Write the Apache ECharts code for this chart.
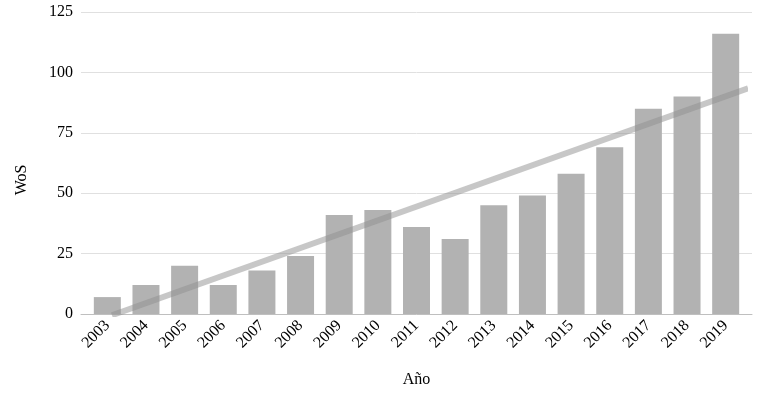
<!DOCTYPE html>
<html>
<head>
<meta charset="utf-8">
<script src="https://cdn.jsdelivr.net/npm/echarts@6/dist/echarts.min.js"></script>
<style>
  html, body { margin: 0; padding: 0; background: #fff; }
  #container { width: 762px; height: 393px; }
</style>
</head>
<body>
<div id="container"></div>
<script>
var years = ['2003', '2004', '2005', '2006', '2007', '2008', '2009', '2010', '2011',
             '2012', '2013', '2014', '2015', '2016', '2017', '2018', '2019'];
var wos = [7, 12, 20, 12, 18, 24, 41, 43, 36, 31, 45, 49, 58, 69, 85, 90, 116];
// trend line ends (x = category index)
var trendLine = [[0.12, -0.5], [16.58, 93.4]];
var yTicks = { min: 0, max: 125, interval: 25 };

var font = 'Liberation Serif';

var dom = document.getElementById('container');
var myChart = echarts.init(dom);

var option = {
    animation: false,
    grid: [
        { left: 88, right: 17, top: 12, bottom: 79 },
        { left: 81, right: 10, top: 12, bottom: 79 }
    ],
    xAxis: [
        {
            type: 'category',
            gridIndex: 0,
            data: years,
            axisLine: { show: false },
            axisTick: { show: false },
            axisLabel: {
                rotate: 45,
                margin: 9,
                fontFamily: font,
                fontSize: 16,
                color: '#000'
            },
            name: 'Año',
            nameLocation: 'middle',
            nameGap: 58,
            nameTextStyle: { fontFamily: font, fontSize: 16, color: '#000' }
        },
        {
            type: 'value',
            gridIndex: 1,
            min: 0,
            max: 1,
            axisLine: { show: true, lineStyle: { color: '#bfbfbf', width: 1 } },
            axisTick: { show: false },
            axisLabel: { show: false },
            splitLine: { show: false }
        },
        {
            type: 'value',
            gridIndex: 0,
            min: -0.5,
            max: 16.5,
            show: false
        }
    ],
    yAxis: [
        {
            type: 'value',
            gridIndex: 0,
            min: yTicks.min,
            max: yTicks.max,
            interval: yTicks.interval,
            show: false
        },
        {
            type: 'value',
            gridIndex: 1,
            min: yTicks.min,
            max: yTicks.max,
            interval: yTicks.interval,
            axisLine: { show: false },
            axisTick: { show: false },
            axisLabel: {
                margin: 8,
                fontFamily: font,
                fontSize: 16,
                color: '#000'
            },
            splitLine: { lineStyle: { color: '#e0e0e0', width: 1 } },
            name: 'WoS',
            nameLocation: 'middle',
            nameGap: 51,
            nameTextStyle: {
                fontFamily: font,
                fontSize: 16,
                color: '#000',
                padding: [0, 34, 0, 0]
            }
        }
    ],
    series: [
        {
            name: 'WoS',
            type: 'bar',
            xAxisIndex: 0,
            yAxisIndex: 0,
            data: wos,
            barWidth: 27,
            itemStyle: { color: '#b2b2b2' }
        },
        {
            name: 'tendencia',
            type: 'line',
            xAxisIndex: 2,
            yAxisIndex: 0,
            data: trendLine,
            symbol: 'none',
            lineStyle: { color: '#909090', width: 6, opacity: 0.5, cap: 'butt' },
            z: 3
        }
    ]
};

myChart.setOption(option);
</script>
</body>
</html>
